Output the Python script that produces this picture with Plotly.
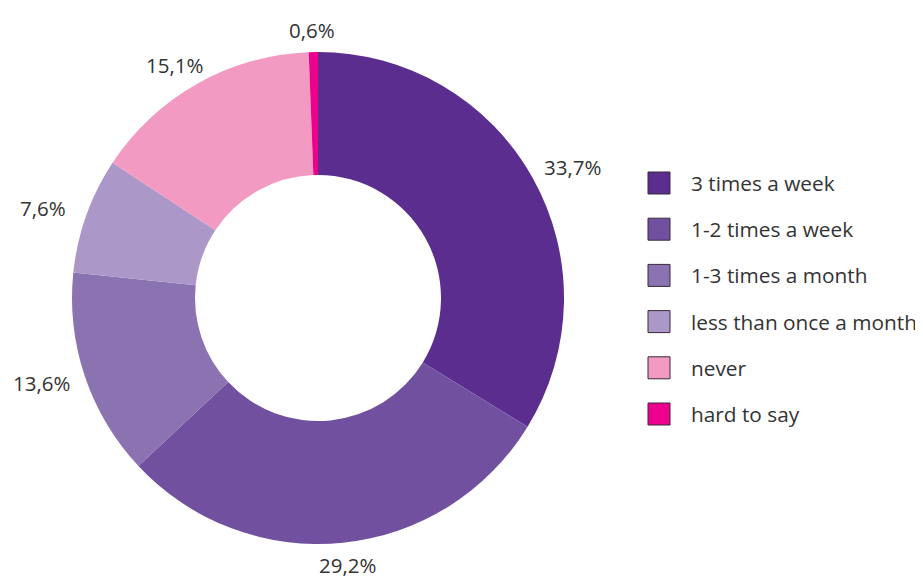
import math
import plotly.graph_objects as go

categories = ["3 times a week", "1-2 times a week", "1-3 times a month",
              "less than once a month", "never", "hard to say"]
values = [33.7, 29.2, 13.6, 7.6, 15.1, 0.6]
colors = ["#5B2D8E", "#7150A0", "#8B72B1", "#AB98C8", "#F39AC3", "#EC008C"]

# page has an 8px body margin, so the plot area is offset by 8px
W, H = 923, 578
cx, cy, R = 310, 290, 246

fig = go.Figure(go.Pie(
    labels=categories,
    values=values,
    hole=0.5,
    sort=False,
    direction="clockwise",
    rotation=0,
    marker=dict(colors=colors, line=dict(width=0)),
    textinfo="none",
    hoverinfo="label+percent",
    showlegend=False,
    domain=dict(x=[(cx - R) / W, (cx + R) / W], y=[1 - (cy + R) / H, 1 - (cy - R) / H]),
))

# percentage labels around the ring, placed at each slice's middle angle
total = sum(values)
acc = 0
for v in values:
    ang = math.radians((acc + v / 2) / total * 360)
    acc += v
    px = cx + 292 * math.sin(ang)
    py = cy - 268 * math.cos(ang)
    fig.add_annotation(
        x=px / W, y=1 - py / H, xref="paper", yref="paper",
        text=f"{v:.1f}".replace(".", ",") + "%",
        showarrow=False, font=dict(size=20.5, color="#333333"),
        xanchor="center", yanchor="middle",
    )

# legend drawn by hand (square swatches with dark outline)
for i, (name, col) in enumerate(zip(categories, colors)):
    yc = 175 + i * 46.2
    fig.add_shape(
        type="rect", xref="paper", yref="paper",
        x0=640 / W, x1=662 / W, y0=1 - (yc + 11) / H, y1=1 - (yc - 11) / H,
        fillcolor=col, line=dict(color="#3a2a3a", width=1),
    )
    fig.add_annotation(
        x=681 / W, y=1 - yc / H, xref="paper", yref="paper",
        text=name, showarrow=False, xanchor="left", yanchor="middle",
        font=dict(size=20.8, color="#333333"),
    )

fig.update_layout(
    width=W, height=H,
    margin=dict(l=0, r=0, t=0, b=0),
    paper_bgcolor="white",
    plot_bgcolor="white",
    font=dict(family="Open Sans", size=21, color="#333333"),
)

fig.write_html("out.html")
